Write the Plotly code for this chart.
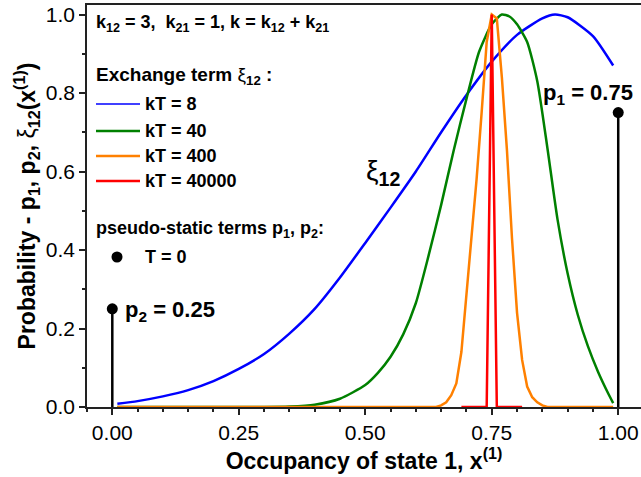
import plotly.graph_objects as go

# Exchange-term distributions xi_12(x) for several kT values (normalised to peak 1)
blue_x = [0.01, 0.05, 0.10, 0.15, 0.20, 0.25, 0.30, 0.35, 0.40, 0.45, 0.50, 0.55, 0.60, 0.65, 0.70, 0.75,
          0.80, 0.85, 0.875, 0.90, 0.95, 0.99]
blue_y = [0.008, 0.015, 0.027, 0.043, 0.066, 0.097, 0.135, 0.187, 0.25, 0.33, 0.418, 0.508, 0.60, 0.70, 0.795, 0.88,
          0.948, 0.99, 1.0, 0.993, 0.945, 0.87]

green_x = [0.01, 0.30, 0.35, 0.40, 0.45, 0.50, 0.525, 0.55, 0.575, 0.60, 0.625, 0.65, 0.675, 0.70, 0.725, 0.75, 0.77,
           0.785, 0.80, 0.82, 0.84, 0.86, 0.88, 0.90, 0.92, 0.94, 0.96, 0.98, 0.99]
green_y = [0.0, 0.0, 0.0012, 0.006, 0.021, 0.056, 0.087, 0.128, 0.185, 0.265, 0.385, 0.515, 0.655, 0.785, 0.905,
           0.975, 1.0, 0.995, 0.975, 0.93, 0.83, 0.66, 0.478, 0.34, 0.235, 0.155, 0.09, 0.035, 0.01]

orange_x = [0.01, 0.64, 0.65, 0.66, 0.67, 0.68, 0.69, 0.70, 0.71, 0.72, 0.73, 0.74, 0.75, 0.76, 0.77, 0.78, 0.79,
            0.80, 0.81, 0.82, 0.83, 0.84, 0.85, 0.86, 0.99]
orange_y = [0.0, 0.0, 0.004, 0.012, 0.03, 0.06, 0.14, 0.28, 0.44, 0.58, 0.75, 0.93, 1.0, 0.99, 0.84, 0.655, 0.43,
            0.24, 0.12, 0.052, 0.025, 0.012, 0.004, 0.0, 0.0]

red_x = [0.69, 0.70, 0.71, 0.72, 0.73, 0.74, 0.75, 0.76, 0.77, 0.78, 0.79, 0.80, 0.81]
red_y = [0.0, 0.0, 0.0, 0.0, 0.0, 0.0, 1.0, 0.0, 0.0, 0.0, 0.0, 0.0, 0.0]

# Pseudo-static terms at T = 0
state_x = [0.0, 1.0]
state_p = [0.25, 0.75]

series_names = ["kT = 8", "kT = 40", "kT = 400", "kT = 40000"]
series_colors = ["#0000ff", "#008000", "#ff8000", "#ff0000"]
series_widths = [2.5, 2.5, 2.5, 2.5]

FONT = "Liberation Sans, Arial, sans-serif"

fig = go.Figure()

curves = [(blue_x, blue_y, "spline"), (green_x, green_y, "spline"),
          (orange_x, orange_y, "linear"), (red_x, red_y, "linear")]
for (xs, ys, shape), name, col, w in zip(curves, series_names, series_colors, series_widths):
    fig.add_trace(go.Scatter(x=xs, y=ys, mode="lines", name=name,
                             line=dict(color=col, width=w, shape=shape, smoothing=0.6),
                             showlegend=False))

# stems with dots for p1, p2
stem_x, stem_y = [], []
for sx, sp in zip(state_x, state_p):
    stem_x += [sx, sx, None]
    stem_y += [0, sp, None]
fig.add_trace(go.Scatter(x=stem_x, y=stem_y, mode="lines",
                         line=dict(color="black", width=2.5), showlegend=False))
fig.add_trace(go.Scatter(x=state_x, y=state_p, mode="markers",
                         marker=dict(color="black", size=11), cliponaxis=False, showlegend=False))

annotations = []


def note(text, x, y, size, xanchor="left"):
    annotations.append(dict(text=text, x=x, y=y, xref="x", yref="y", xanchor=xanchor,
                            yanchor="middle", showarrow=False,
                            font=dict(family=FONT, size=size, color="black")))


def px_x(px):
    return (px - 112.3) / 505.9


def px_y(py):
    return (407 - py) / 392.5


note("<b>k<sub>12</sub> = 3,\u00a0 k<sub>21</sub> = 1, k = k<sub>12</sub> + k<sub>21</sub></b>", px_x(94), px_y(23), 18)
note("<b>Exchange term </b>ξ<b><sub>12</sub> :</b>", px_x(94), px_y(76), 19)

legend_rows = [104, 131, 156, 181]
shapes = []
for name, col, row in zip(series_names, series_colors, legend_rows):
    shapes.append(dict(type="line", xref="x", yref="y", x0=px_x(96), x1=px_x(140),
                       y0=px_y(row), y1=px_y(row), line=dict(color=col, width=2.5 if col != "#0000ff" else 1.5)))
    note("<b>" + name + "</b>", px_x(143), px_y(row), 18)

note("<b>pseudo-static terms p<sub>1</sub>, p<sub>2</sub>:</b>", px_x(94), px_y(229), 18)
note("<b>T = 0</b>", px_x(143), px_y(257), 18)

note("<b>p<sub>2</sub> = 0.25</b>", px_x(123), px_y(311), 22)
note("<b>p<sub>1</sub> = 0.75</b>", px_x(541), px_y(94), 22)
note("ξ<b><sub>12</sub></b>", px_x(364), px_y(172), 28)

# legend dot for T = 0
fig.add_trace(go.Scatter(x=[px_x(117)], y=[px_y(257)], mode="markers",
                         marker=dict(color="black", size=11), showlegend=False, hoverinfo="skip"))

axis_common = dict(showline=True, linecolor="#222222", linewidth=1.5, ticks="outside",
                   ticklen=6, tickwidth=1.5, tickcolor="#222222", showgrid=False, zeroline=False,
                   tickfont=dict(family=FONT, size=21, color="black"))

fig.update_layout(
    width=641, height=477,
    margin=dict(l=87, r=0, t=5, b=70),
    plot_bgcolor="white", paper_bgcolor="white",
    font=dict(family=FONT, color="black"),
    annotations=annotations, shapes=shapes,
    xaxis=dict(range=[-0.05, 1.045], tickvals=[0, 0.25, 0.5, 0.75, 1.0], tickformat=".2f",
               mirror=True, minor=dict(dtick=0.05, ticks="outside", ticklen=3, tickwidth=1.5, tickcolor="#222222"),
               title=dict(text="<b>Occupancy of state 1, x<sup>(1)</sup></b>", font=dict(size=23), standoff=2),
               **axis_common),
    yaxis=dict(range=[0, 1.0242], dtick=0.2, tickformat=".1f",
               minor=dict(dtick=0.1, ticks="outside", ticklen=3, tickwidth=1.5, tickcolor="#222222"),
               title=dict(text="<b>Probability - p<sub>1</sub>, p<sub>2</sub>, </b>ξ<b><sub>12</sub>(x<sup>(1)</sup>)</b>",
                          font=dict(size=23), standoff=4),
               **axis_common),
)

fig.write_html("out.html")
